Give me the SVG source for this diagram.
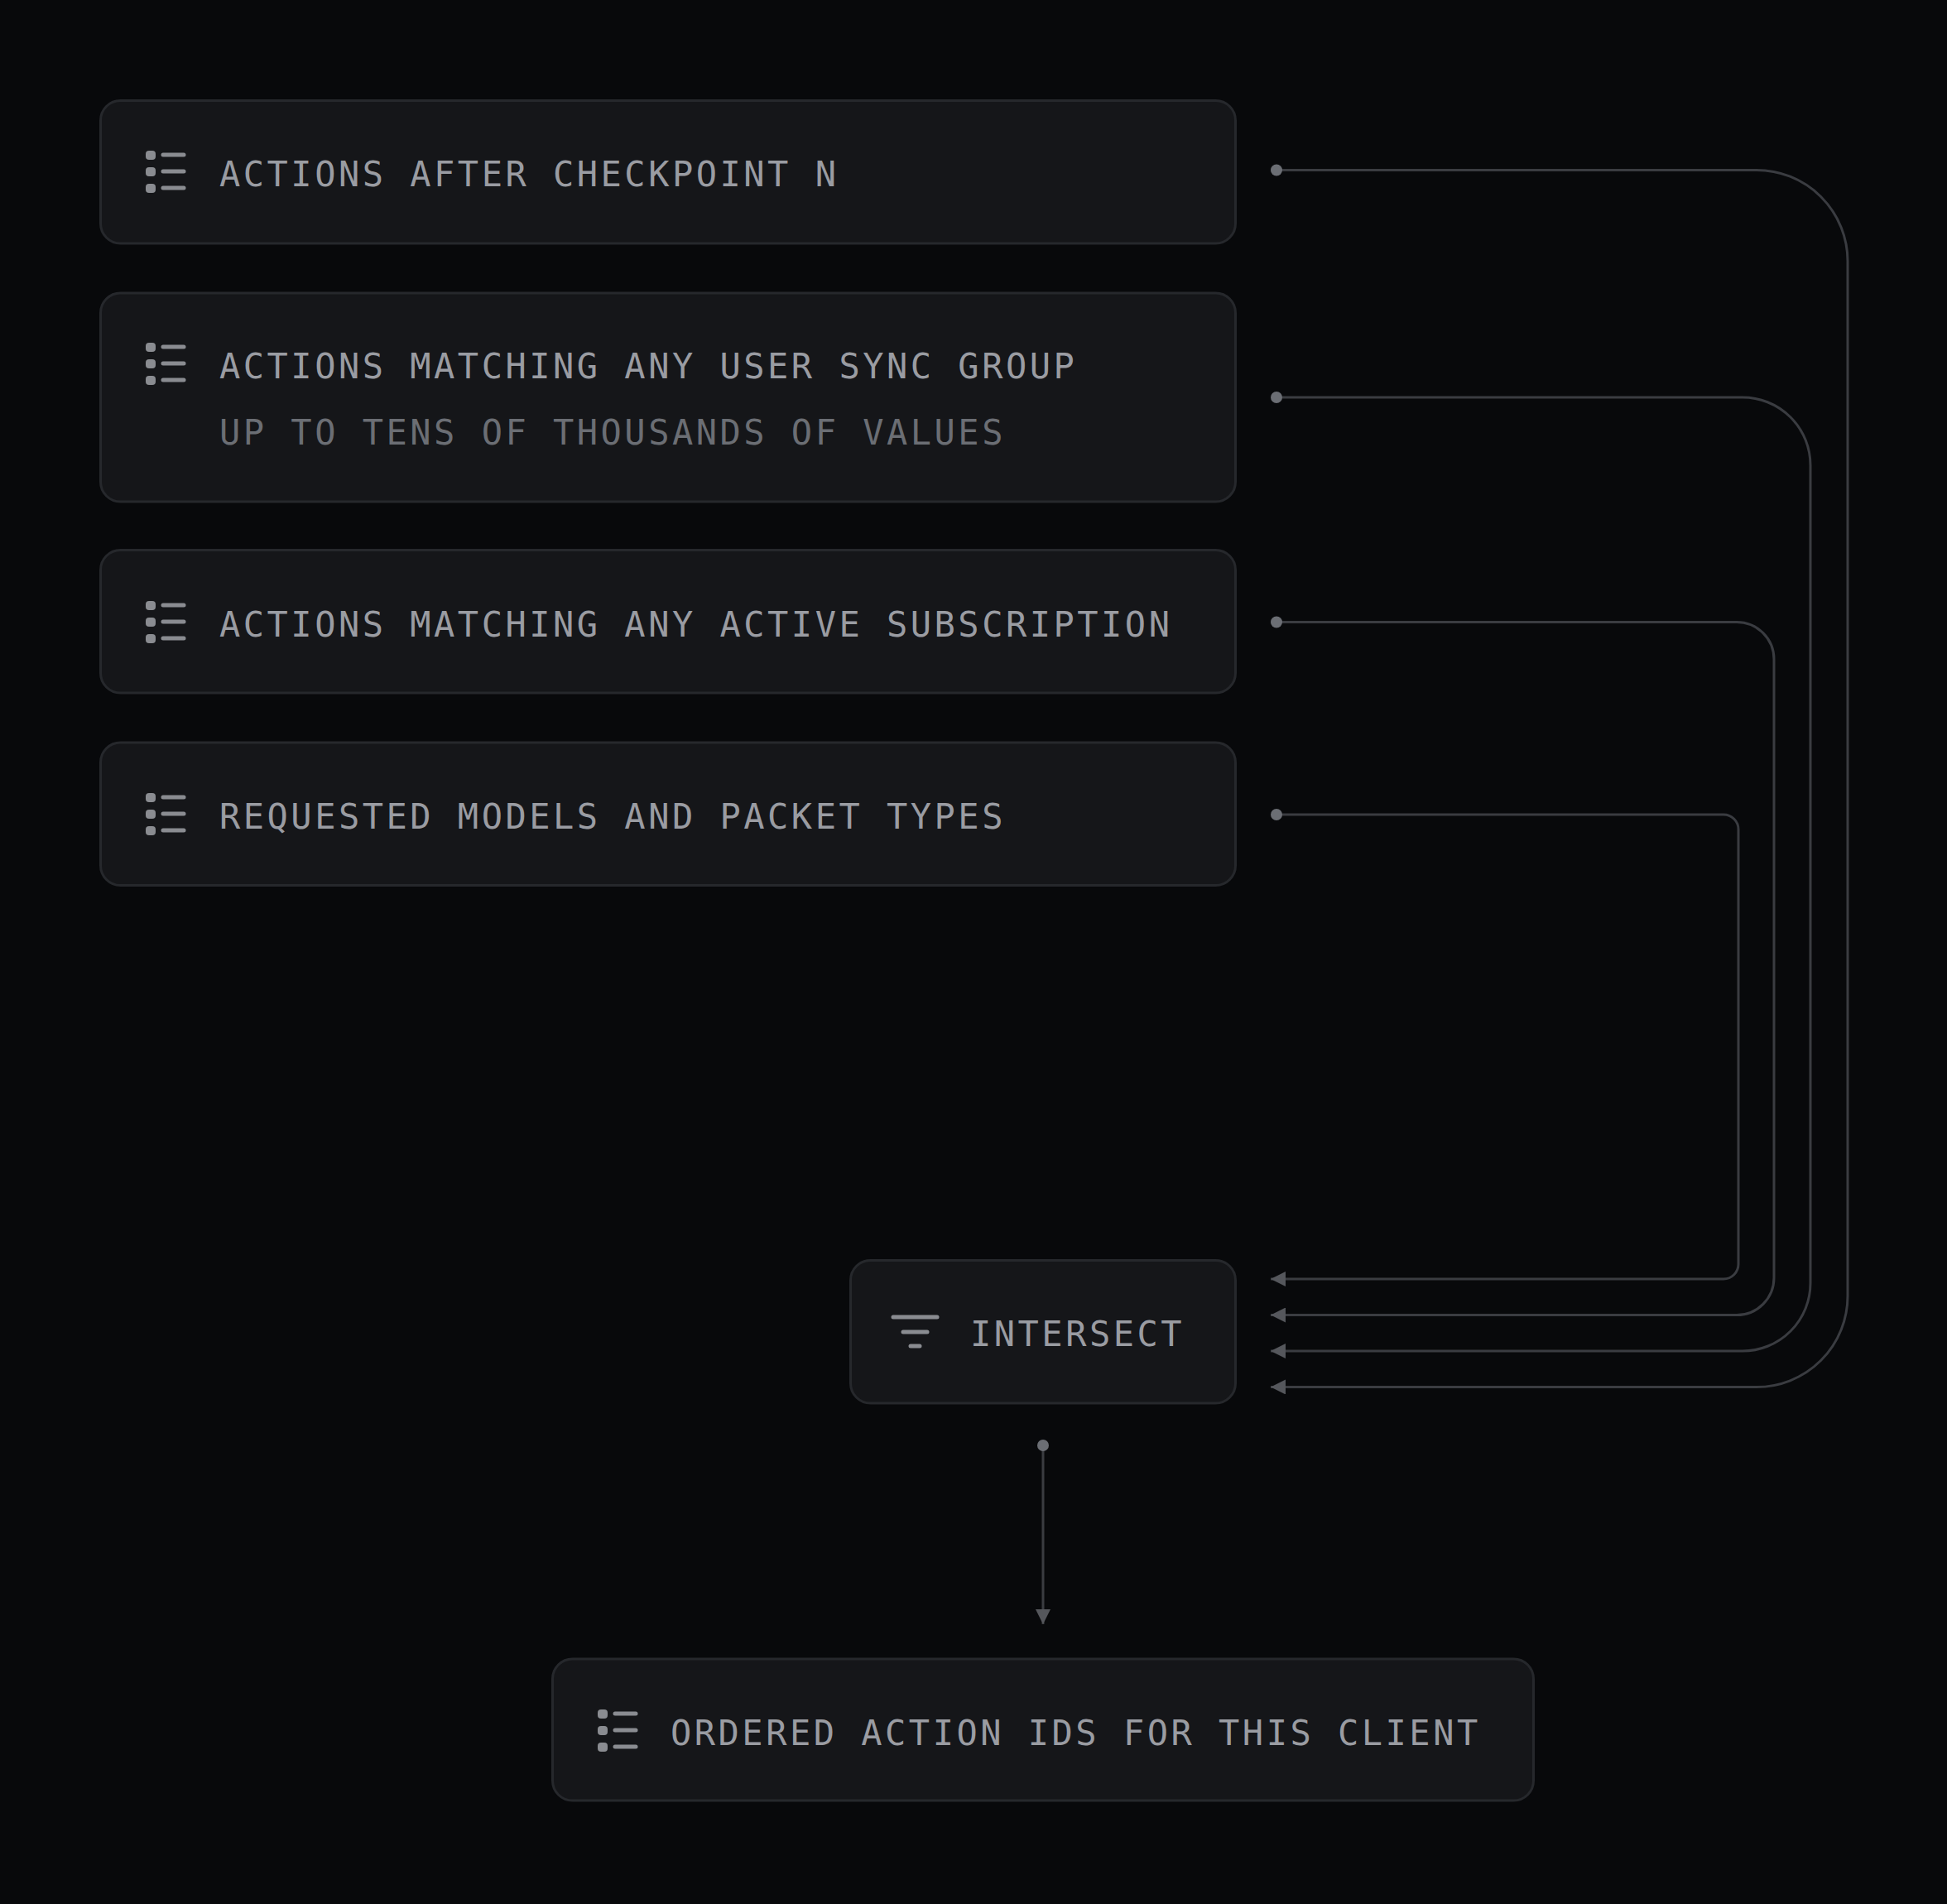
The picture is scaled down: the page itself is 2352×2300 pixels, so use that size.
<svg xmlns="http://www.w3.org/2000/svg" width="2352" height="2300" viewBox="0 0 2352 2300">
<style>
.box{fill:#151619;stroke:#26282c;stroke-width:3}
.t{font-family:"DejaVu Sans Mono","Liberation Mono",monospace;font-size:42px;letter-spacing:3.5px;fill:#9a9ca2}
.s{fill:#6b6e74}
.ic{fill:#8a8c91}
.icl{stroke:#8a8c91;stroke-width:5;stroke-linecap:round}
.c{fill:none;stroke:#3a3c41;stroke-width:3}
.d{fill:#6b6e74}
</style>
<defs>
<g id="list"><rect class="ic" x="1" y="0" width="12" height="11" rx="4"/><rect class="ic" x="1" y="20" width="12" height="11" rx="4"/><rect class="ic" x="1" y="40" width="12" height="11" rx="4"/><line class="icl" x1="22" y1="5" x2="47" y2="5"/><line class="icl" x1="22" y1="25" x2="47" y2="25"/><line class="icl" x1="22" y1="45" x2="47" y2="45"/></g>
<marker id="ah" viewBox="0 0 10 10" refX="10" refY="5" markerWidth="6" markerHeight="6" markerUnits="strokeWidth" orient="auto"><path d="M0,0L10,5L0,10z" fill="#55575c"/></marker>
</defs>
<rect width="2352" height="2300" fill="#08090b"/>
<g id="n1"><rect class="box" x="121.5" y="121.5" width="1371" height="172.5" rx="24"/><use href="#list" x="175" y="182"/><text class="t" x="265" y="225">ACTIONS AFTER CHECKPOINT N</text></g>
<g id="n2"><rect class="box" x="121.5" y="354" width="1371" height="252" rx="24"/><use href="#list" x="175" y="414"/><text class="t" x="265" y="457">ACTIONS MATCHING ANY USER SYNC GROUP</text><text class="t s" x="265" y="537">UP TO TENS OF THOUSANDS OF VALUES</text></g>
<g id="n3"><rect class="box" x="121.5" y="664.5" width="1371" height="172.5" rx="24"/><use href="#list" x="175" y="726"/><text class="t" x="265" y="769">ACTIONS MATCHING ANY ACTIVE SUBSCRIPTION</text></g>
<g id="n4"><rect class="box" x="121.5" y="897" width="1371" height="172.5" rx="24"/><use href="#list" x="175" y="958"/><text class="t" x="265" y="1001">REQUESTED MODELS AND PACKET TYPES</text></g>
<g id="n5"><rect class="box" x="1027.5" y="1522.5" width="465" height="172.5" rx="24"/><line class="icl" x1="1079" y1="1591" x2="1132" y2="1591"/><line class="icl" x1="1091" y1="1609" x2="1120" y2="1609"/><line class="icl" x1="1100" y1="1626" x2="1111" y2="1626"/><text class="t" x="1172" y="1626">INTERSECT</text></g>
<g id="n6"><rect class="box" x="667.5" y="2004" width="1185" height="171" rx="24"/><use href="#list" x="721" y="2065"/><text class="t" x="810" y="2108">ORDERED ACTION IDS FOR THIS CLIENT</text></g>
<g id="connectors">
<path class="c" marker-end="url(#ah)" d="M1542,205.5H2122A110,110 0 0 1 2232,315.5V1565.5A110,110 0 0 1 2122,1675.5H1535"/>
<path class="c" marker-end="url(#ah)" d="M1542,480H2105A82,82 0 0 1 2187,562V1550A82,82 0 0 1 2105,1632H1535"/>
<path class="c" marker-end="url(#ah)" d="M1542,751.5H2098A45,45 0 0 1 2143,796.5V1543.5A45,45 0 0 1 2098,1588.5H1535"/>
<path class="c" marker-end="url(#ah)" d="M1542,984H2082A18,18 0 0 1 2100,1002V1527A18,18 0 0 1 2082,1545H1535"/>
<path class="c" marker-end="url(#ah)" d="M1260,1746V1962"/>
<circle class="d" cx="1542" cy="205.5" r="7"/><circle class="d" cx="1542" cy="480" r="7"/><circle class="d" cx="1542" cy="751.5" r="7"/><circle class="d" cx="1542" cy="984" r="7"/><circle class="d" cx="1260" cy="1746" r="7"/>
</g>
</svg>
